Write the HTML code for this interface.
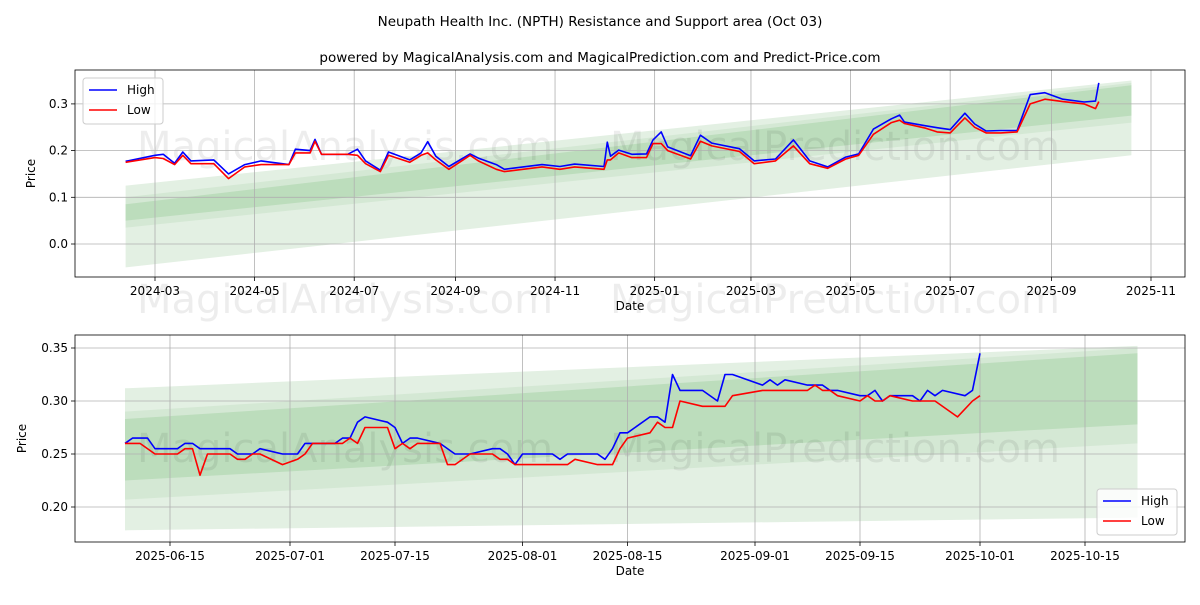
<!DOCTYPE html>
<html><head><meta charset="utf-8"><style>
body{margin:0;background:#fff;}
svg{font-family:"DejaVu Sans","Liberation Sans",sans-serif;}
</style></head><body>
<svg id="s" width="1200" height="600" viewBox="0 0 1200 600">
<rect width="1200" height="600" fill="#fff"/>
<text x="600" y="26" text-anchor="middle" font-size="13.5">Neupath Health Inc. (NPTH) Resistance and Support area (Oct 03)</text>
<text x="600" y="62" text-anchor="middle" font-size="13.5">powered by MagicalAnalysis.com and MagicalPrediction.com and Predict-Price.com</text>
<g id="top"></g>
<g id="bot"></g>
</svg>
<script>
// ---- top chart data (days since 2024-03-01) ----
const topHighDays=[-18,0,5,12,17,22,36,45,55,65,82,86,95,98,102,118,124,129,138,143,156,163,167,172,180,193,198,209,214,237,248,257,275,277,279,284,292,301,305,310,314,328,334,341,358,367,380,391,401,412,423,431,440,451,456,459,472,479,487,496,502,509,518,528,536,545,556,569,576,578];
const topHigh=[.177,.19,.192,.173,.197,.178,.18,.15,.17,.178,.17,.203,.20,.224,.192,.192,.203,.178,.158,.197,.18,.195,.219,.188,.166,.193,.184,.17,.16,.17,.166,.171,.166,.218,.188,.201,.192,.193,.223,.24,.208,.189,.233,.216,.204,.178,.182,.223,.178,.165,.186,.193,.246,.268,.276,.261,.253,.249,.245,.28,.257,.242,.243,.243,.32,.324,.31,.304,.306,.345];
const topLowDays=[-18,0,5,12,17,22,36,45,55,65,82,86,95,98,102,118,124,129,138,143,156,163,167,172,180,193,198,209,214,237,248,257,275,277,279,284,292,301,305,310,314,328,334,341,358,367,380,391,401,412,423,431,440,451,456,459,472,479,487,496,502,509,518,528,536,545,556,569,576,578];
const topLow=[.175,.185,.183,.17,.19,.172,.172,.14,.165,.17,.17,.195,.195,.22,.192,.192,.19,.172,.155,.19,.175,.19,.195,.18,.16,.19,.178,.16,.155,.165,.16,.165,.16,.18,.18,.195,.185,.185,.215,.215,.2,.182,.22,.21,.198,.172,.178,.21,.172,.162,.182,.19,.235,.26,.265,.258,.248,.24,.238,.27,.25,.238,.238,.24,.3,.31,.305,.3,.29,.305];
const topXTicks=["2024-03","2024-05","2024-07","2024-09","2024-11","2025-01","2025-03","2025-05","2025-07","2025-09","2025-11"];
const topXTickDays=[0,61,122,184,245,306,365,426,487,549,610];
const topYTicks=[0.0,0.1,0.2,0.3];
// bands: [startUpper, startLower, endUpper, endLower]
const topBands=[[.125,-.05,.35,.19],[.10,.035,.345,.26],[.085,.05,.34,.275]];
const topBandDays=[-18,598];
// ---- bottom chart data (days since 2025-06-09) ----
const botHighDays=[0,1,3,4,7,8,9,10,14,15,17,18,21,23,24,28,29,30,31,32,35,36,37,38,39,42,44,46,49,50,51,52,53,57,58,59,63,64,65,66,67,70,71,72,73,74,77,79,80,81,85,86,87,88,91,93,94,95,98,99,100,101,102,105,106,107,108,109,112,113,114];
const botHigh=[.26,.265,.265,.255,.255,.26,.26,.255,.255,.25,.25,.255,.25,.25,.26,.26,.265,.265,.28,.285,.28,.275,.26,.265,.265,.26,.25,.25,.255,.255,.25,.24,.25,.25,.245,.25,.25,.245,.255,.27,.27,.285,.285,.28,.325,.31,.31,.30,.325,.325,.315,.32,.315,.32,.315,.315,.31,.31,.305,.305,.31,.30,.305,.305,.30,.31,.305,.31,.305,.31,.345];
const botLowDays=[0,2,4,7,8,9,10,11,14,15,16,17,18,21,23,24,25,29,30,31,32,35,36,37,38,39,42,43,44,46,49,50,51,52,57,59,60,63,65,66,67,70,71,72,73,74,77,80,81,85,91,92,93,94,95,98,99,100,101,102,105,108,111,113,114];
const botLow=[.26,.26,.25,.25,.255,.255,.23,.25,.25,.245,.245,.25,.25,.24,.245,.25,.26,.26,.265,.26,.275,.275,.255,.26,.255,.26,.26,.24,.24,.25,.25,.245,.245,.24,.24,.24,.245,.24,.24,.255,.265,.27,.28,.275,.275,.30,.295,.295,.305,.31,.31,.315,.31,.31,.305,.30,.305,.30,.30,.305,.30,.30,.285,.30,.305];
const botXTicks=["2025-06-15","2025-07-01","2025-07-15","2025-08-01","2025-08-15","2025-09-01","2025-09-15","2025-10-01","2025-10-15"];
const botXTickDays=[6,22,36,53,67,84,98,114,128];
const botYTicks=[0.20,0.25,0.30,0.35];
const botBands=[[.312,.178,.352,.19],[.29,.207,.35,.26],[.283,.225,.345,.278]];
const botBandDays=[0,135];

const NS="http://www.w3.org/2000/svg";
function mk(parent,tag,attrs){const e=document.createElementNS(NS,tag);for(const k in attrs)e.setAttribute(k,attrs[k]);parent.appendChild(e);return e;}

function panel(g,cfg){
  const {L,R,T,B,x,y}=cfg;
  // bands
  const fills=["#e3f0e3","#cfe6cf","#b5dab5"];
  cfg.bands.forEach((b,i)=>{
    const x0=x(cfg.bandDays[0]),x1=x(cfg.bandDays[1]);
    const p=mk(g,"polygon",{points:`${x0},${y(b[0])} ${x1},${y(b[2])} ${x1},${y(b[3])} ${x0},${y(b[1])}`,fill:fills[i],opacity:i==0?1:0.8});
    
    
  });
  // watermark
  cfg.marks.forEach(m=>{
    const t=mk(g,"text",{x:m[0],y:m[1],"font-size":40,fill:"#000","fill-opacity":0.07,"text-anchor":"middle"});
    t.textContent=m[2];
    
    
  });
  // grid
  cfg.xt.forEach((lab,i)=>{
    const px=x(cfg.xtd[i]);
    mk(g,"line",{x1:px,x2:px,y1:T,y2:B,stroke:"#b0b0b0","stroke-width":0.8});
    mk(g,"line",{x1:px,x2:px,y1:B,y2:B+4,stroke:"#000","stroke-width":0.8});
    const t=mk(g,"text",{x:px,y:B+18,"font-size":12,"text-anchor":"middle"});t.textContent=lab;
    
    
  });
  cfg.yt.forEach(v=>{
    const py=y(v);
    mk(g,"line",{x1:L,x2:R,y1:py,y2:py,stroke:"#b0b0b0","stroke-width":0.8});
    mk(g,"line",{x1:L-4,x2:L,y1:py,y2:py,stroke:"#000","stroke-width":0.8});
    const t=mk(g,"text",{x:L-7,y:py+4,"font-size":12,"text-anchor":"end"});t.textContent=v.toFixed(cfg.dec);
    
    
  });
  // lines
  [[cfg.hd,cfg.hv,"#0000ff","high-line"],[cfg.ld,cfg.lv,"#ff0000","low-line"]].forEach(s=>{
    const pts=s[0].map((d,i)=>x(d).toFixed(1)+","+y(s[1][i]).toFixed(1)).join(" ");
    const p=mk(g,"polyline",{points:pts,fill:"none",stroke:s[2],"stroke-width":1.6,"stroke-linejoin":"round"});
    
    
  });
  const fr=mk(g,"rect",{x:L,y:T,width:R-L,height:B-T,fill:"none",stroke:"#000","stroke-width":0.8});
  
  
  const xl=mk(g,"text",{x:(L+R)/2,y:B+33,"font-size":12,"text-anchor":"middle"});xl.textContent="Date";
  
  
  const yl=mk(g,"text",{x:0,y:0,"font-size":12,"text-anchor":"middle",transform:`translate(${cfg.ylx},${(T+B)/2}) rotate(-90)`});yl.textContent="Price";
  
  
  // legend
  const [lx,ly]=cfg.leg;
  const lg=mk(g,"g",{});
  
  
  mk(lg,"rect",{x:lx,y:ly,width:80,height:46,rx:3,fill:"#fff","fill-opacity":0.8,stroke:"#ccc"});
  [["High","#0000ff"],["Low","#ff0000"]].forEach((e,i)=>{
    const yy=ly+12+i*20;
    mk(lg,"line",{x1:lx+6,x2:lx+34,y1:yy,y2:yy,stroke:e[1],"stroke-width":1.6});
    const t=mk(lg,"text",{x:lx+44,y:yy+4,"font-size":12});t.textContent=e[0];
    
    
  });
}
// top scales
const tL=75,tR=1185,tT=70,tB=277;
panel(document.getElementById("top"),{L:tL,R:tR,T:tT,B:tB,
  x:d=>155+d*996/610, y:v=>244-v*467, dec:1,
  bands:topBands,bandDays:topBandDays,
  marks:[[345,160,"MagicalAnalysis.com"],[835,160,"MagicalPrediction.com"],[345,313,"MagicalAnalysis.com"],[835,313,"MagicalPrediction.com"]],
  xt:topXTicks,xtd:topXTickDays,yt:topYTicks,
  hd:topHighDays,hv:topHigh,ld:topLowDays,lv:topLow,ylx:35,leg:[83,78]});
panel(document.getElementById("bot"),{L:75,R:1185,T:335,B:542,
  x:d=>125+d*7.5, y:v=>401-(v-0.30)*1060, dec:2,
  bands:botBands,bandDays:botBandDays,
  marks:[[345,462,"MagicalAnalysis.com"],[835,462,"MagicalPrediction.com"]],
  xt:botXTicks,xtd:botXTickDays,yt:botYTicks,
  hd:botHighDays,hv:botHigh,ld:botLowDays,lv:botLow,ylx:26,leg:[1097,489]});
</script>
</body></html>
